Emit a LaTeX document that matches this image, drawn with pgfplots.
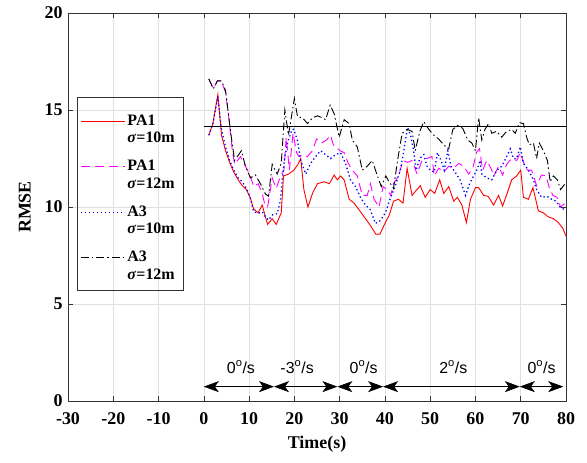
\documentclass[border=0pt]{standalone}
\usepackage{pgfplots}
\pgfplotsset{compat=1.18}
\usepackage{fontspec}
\setmainfont{Liberation Serif}
\setsansfont{Liberation Sans}
\usetikzlibrary{arrows.meta}

\definecolor{pa1a}{RGB}{255,0,0}
\definecolor{pa1b}{RGB}{255,0,255}
\definecolor{a3a}{RGB}{0,0,255}
\definecolor{a3b}{RGB}{0,0,0}

\tikzset{
  rate arrow/.style={{Stealth[length=15bp,width=11bp,inset=4bp]}-{Stealth[length=15bp,width=11bp,inset=4bp]}, line width=0.6bp},
  rate label/.style={font=\sffamily\fontsize{16}{18}\selectfont, anchor=base},
  pa1a line/.style={draw=pa1a, line width=0.9bp, solid},
  pa1b line/.style={draw=pa1b, line width=0.9bp, dash pattern=on 9bp off 5bp},
  a3a line/.style={draw=a3a, line width=1.3bp, dash pattern=on 1.3bp off 2.7bp},
  a3b line/.style={draw=a3b, line width=0.9bp, dash pattern=on 8bp off 3bp on 1.5bp off 3bp},
}

\begin{document}
\begin{tikzpicture}
\useasboundingbox (-68bp,-62bp) rectangle (519bp,401bp);
\begin{axis}[
  at={(0,0)}, anchor=south west,
  scale only axis, width=498bp, height=388bp,
  xmin=-30, xmax=80, ymin=0, ymax=20,
  xtick={-30,-20,...,80}, ytick={0,5,...,20},
  tick align=inside, major tick length=5bp,
  grid=major, grid style={black!12, line width=0.6bp},
  axis line style={black!80, line width=0.6bp},
  every tick/.style={black!80, line width=0.6bp},
  /pgf/number format/assume math mode=true,
  ticklabel style={font=\fontsize{18}{20}\selectfont\bfseries},
  xticklabel style={yshift=-8bp},
  yticklabel style={xshift=-2bp},
  label style={font=\fontsize{18}{20}\selectfont\bfseries},
  xlabel={Time(s)}, ylabel={RMSE},
  xlabel style={yshift=-5bp},
  ylabel style={yshift=7bp},
  legend style={at={(rel axis cs:0.018,0.7835)}, anchor=north west, yshift=-4.5bp,
    draw=none, fill=none, inner ysep=11bp, inner xsep=3bp,
    font=\fontsize{16}{17.5}\selectfont\bfseries,
    nodes={align=left}, cells={anchor=west}, row sep=12bp},
]

% PA1, sigma = 10 m
\addplot[pa1a, pa1a line,
  legend image code/.code={\draw[pa1a line] (0bp,8bp) -- (44bp,8bp);}] coordinates {
(1.1,13.7) (2.0,14.3) (3.1,15.8) (3.9,13.7) (4.8,12.9) (5.7,12.3) (6.6,11.8)
(7.6,11.4) (8.5,11.1) (9.4,10.9) (10.3,10.45) (11.0,9.9) (12.0,9.7) (12.9,10.1)
(13.6,9.5) (14.1,9.1) (15.1,9.4) (16.0,9.1) (17.1,9.7) (17.6,11.6) (18.75,11.7)
(19.9,11.9) (20.8,12.2) (21.4,12.5) (22.1,10.9) (23.0,10.0) (24.0,10.7) (25.1,11.2)
(26.6,11.3) (27.7,11.2) (28.8,11.65) (29.5,11.4) (30.2,11.6) (31.0,11.4) (32.1,10.4)
(33.2,10.2) (34.3,9.85) (35.4,9.5) (36.5,9.15) (38.0,8.6) (38.9,8.6) (40.1,9.2)
(41.0,9.6) (41.9,10.3) (43.0,10.4) (44.0,10.2) (44.9,12.0) (46.0,10.6) (47.8,11.1)
(48.9,10.5) (50.0,10.9) (51.0,10.7) (52.1,11.4) (53.0,10.7) (54.1,11.05) (55.2,10.3)
(56.0,10.5) (57.0,10.1) (58.0,9.2) (58.9,10.4) (60.0,11.0) (60.7,11.0) (61.8,10.6)
(62.8,10.55) (64.0,10.1) (65.1,10.6) (66.0,10.05) (67.0,10.7) (68.0,11.4) (69.1,11.6)
(70.0,11.9) (70.6,10.5) (71.7,10.4) (72.7,11.0) (73.9,9.8) (75.0,9.7) (76.0,9.5)
(77.2,9.4) (78.3,9.2) (79.3,8.9) (80.0,8.5)
};
\addlegendentry{PA1\\\textit{σ}=10m}

% PA1, sigma = 12 m
\addplot[pa1b, pa1b line,
  legend image code/.code={\draw[pa1b line] (0bp,8bp) -- (44bp,8bp);}] coordinates {
(1.1,16.6) (2.1,16.1) (3.0,16.5) (3.9,16.5) (4.8,15.9) (5.5,14.65) (6.3,12.9)
(6.8,12.2) (8.1,12.6) (9.2,12.1) (10.3,11.6) (11.0,11.05) (12.0,11.2) (12.9,10.7)
(13.5,10.1) (14.1,10.0) (15.1,11.5) (16.0,10.96) (16.9,11.56) (17.7,11.9) (18.2,13.6)
(18.9,11.9) (19.7,13.8) (20.5,12.8) (21.0,12.6) (21.8,12.7) (22.9,12.6) (24.0,12.9)
(24.9,13.5) (26.0,13.3) (27.1,13.45) (28.0,13.7) (28.6,13.2) (30.1,12.9) (31.0,12.8)
(31.9,12.25) (32.8,11.9) (33.9,11.6) (35.0,10.6) (36.1,10.6) (36.8,11.2) (37.6,10.4)
(38.7,10.0) (39.6,11.05) (40.5,10.9) (41.3,10.6) (41.9,11.2) (43.0,11.6) (44.0,12.4)
(45.0,12.3) (46.0,12.4) (47.1,11.7) (48.2,12.4) (49.3,12.5) (50.4,12.6) (50.9,11.6)
(51.9,12.0) (53.0,11.8) (54.1,12.1) (55.2,12.0) (56.3,12.25) (57.4,12.1) (58.5,11.7)
(59.4,12.0) (60.3,12.85) (60.9,13.0) (61.6,11.9) (62.5,12.4) (63.4,12.0) (64.1,11.6)
(65.1,12.1) (66.0,11.65) (66.9,12.2) (68.0,12.5) (69.1,12.4) (69.9,12.8) (70.7,12.25)
(71.5,11.9) (72.4,11.9) (73.5,11.1) (74.6,11.65) (75.6,11.6) (76.3,11.0) (77.1,10.6)
(78.0,10.5) (78.8,10.0) (79.8,10.2)
};
\addlegendentry{PA1\\\textit{σ}=12m}

% A3, sigma = 10 m
\addplot[a3a, a3a line,
  legend image code/.code={\draw[a3a line] (0bp,8bp) -- (44bp,8bp);}] coordinates {
(1.1,13.7) (2.0,14.3) (3.1,15.7) (3.9,14.0) (4.8,13.1) (5.7,12.4) (6.6,11.9)
(7.6,11.5) (8.5,11.3) (9.4,10.96) (10.3,10.45) (11.0,9.76) (12.0,9.67) (12.9,9.75)
(13.6,9.5) (14.3,9.33) (15.2,9.6) (16.2,9.65) (16.9,10.3) (17.4,11.6) (17.9,12.6)
(18.6,13.4) (19.5,14.0) (19.9,14.0) (20.7,13.4) (21.4,12.4) (22.5,11.7) (23.6,12.25)
(24.7,12.6) (25.8,12.9) (26.9,12.7) (28.0,12.5) (29.1,12.7) (30.2,12.8) (31.3,12.25)
(32.4,11.4) (33.5,11.05) (34.6,10.5) (35.7,10.1) (36.8,9.85) (37.9,9.15) (39.0,9.3)
(40.1,9.7) (41.2,10.45) (42.3,11.1) (43.4,11.9) (44.1,12.8) (45.0,14.1) (45.8,13.6)
(46.4,12.8) (46.9,11.9) (47.7,12.5) (48.6,12.7) (49.3,12.1) (50.0,11.9) (50.9,11.8)
(51.6,12.8) (52.4,12.4) (53.1,11.9) (53.9,12.9) (54.6,12.1) (55.5,11.8) (56.6,11.4)
(57.8,10.6) (58.7,11.2) (59.6,11.6) (60.5,12.0) (61.0,12.4) (61.4,11.7) (62.5,11.5)
(63.6,11.4) (64.7,11.9) (65.8,12.1) (66.9,12.6) (67.7,13.0) (68.4,12.5) (69.1,12.5)
(69.9,13.1) (70.6,12.25) (71.7,11.9) (72.8,11.4) (73.5,10.9) (74.6,10.5) (75.8,10.55)
(76.8,10.4) (77.8,10.3) (78.7,10.0) (79.4,9.9) (80.0,9.8)
};
\addlegendentry{A3\\\textit{σ}=10m}

% A3, sigma = 12 m
\addplot[a3b, a3b line,
  legend image code/.code={\draw[a3b line] (0bp,8bp) -- (44bp,8bp);}] coordinates {
(1.1,16.6) (2.1,16.1) (3.0,16.5) (3.9,16.5) (4.8,16.0) (5.9,13.9) (6.8,12.4)
(8.3,12.9) (9.2,12.1) (10.3,11.5) (11.4,11.65) (12.5,11.2) (13.6,10.67) (14.3,10.56)
(15.1,12.2) (16.2,11.7) (17.1,12.25) (17.9,15.0) (18.7,13.7) (20.0,15.6) (20.7,14.65)
(21.8,14.6) (22.9,14.3) (24.0,14.6) (25.1,14.7) (26.2,14.6) (26.9,14.5) (27.9,15.25)
(28.8,14.8) (29.9,13.6) (31.0,14.5) (32.1,14.3) (32.8,13.45) (33.9,13.1) (35.0,11.9)
(36.1,12.1) (37.2,12.4) (38.2,11.7) (39.2,11.05) (40.2,11.6) (40.8,11.35) (41.9,10.96)
(42.8,12.4) (43.8,13.8) (44.9,14.0) (46.0,13.9) (46.7,12.9) (47.7,13.9) (48.6,14.4)
(49.7,14.0) (50.8,13.7) (51.9,13.5) (53.0,13.2) (54.1,13.0) (55.0,14.0) (56.1,14.2)
(57.2,14.05) (58.3,13.45) (59.2,13.3) (60.0,12.9) (60.7,14.6) (61.4,13.45) (62.1,14.0)
(62.9,14.3) (63.6,13.8) (64.7,13.9) (65.8,13.6) (66.9,13.9) (68.0,14.0) (68.8,13.8)
(69.7,14.35) (70.6,14.3) (71.3,13.6) (71.9,13.2) (72.8,13.3) (73.5,12.5) (74.1,13.3)
(75.0,12.9) (75.9,12.4) (76.5,11.3) (77.2,11.6) (78.1,11.4) (78.8,10.9) (79.8,11.2)
};
\addlegendentry{A3\\\textit{σ}=12m}

% threshold line
\addplot[black, line width=0.9bp, forget plot] coordinates {(0,14.15) (80,14.15)};

% legend frame
\draw[black!80, line width=0.6bp] (rel axis cs:0.018,0.7835) rectangle (rel axis cs:0.231,0.286);

% turn-rate phases
\draw[rate arrow] (axis cs:0,0.74) -- (axis cs:15.5,0.74);
\draw[rate arrow] (axis cs:15.5,0.74) -- (axis cs:29.5,0.74);
\draw[rate arrow] (axis cs:29.5,0.74) -- (axis cs:39.6,0.74);
\draw[rate arrow] (axis cs:39.6,0.74) -- (axis cs:69.8,0.74);
\draw[rate arrow] (axis cs:69.8,0.74) -- (axis cs:79.4,0.74);
\node[rate label] at (axis cs:8.2,1.44) {0\textsuperscript{o}/s};
\node[rate label] at (axis cs:20.6,1.44) {-3\textsuperscript{o}/s};
\node[rate label] at (axis cs:35.3,1.44) {0\textsuperscript{o}/s};
\node[rate label] at (axis cs:55.1,1.44) {2\textsuperscript{o}/s};
\node[rate label] at (axis cs:74.6,1.44) {0\textsuperscript{o}/s};
\end{axis}
\end{tikzpicture}
\end{document}
